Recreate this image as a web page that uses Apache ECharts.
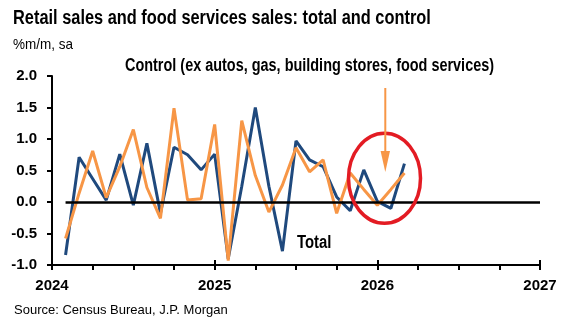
<!DOCTYPE html>
<html>
<head>
<meta charset="utf-8">
<script src="https://cdn.jsdelivr.net/npm/echarts@6/dist/echarts.min.js"></script>
<style>
html,body{margin:0;padding:0;background:#fff;}
#chart{width:567px;height:324px;}
</style>
</head>
<body>
<div id="chart"></div>
<script>
// Months Jan 2024 .. Feb 2026 (plotted at month end)
const months = ['2024-01','2024-02','2024-03','2024-04','2024-05','2024-06','2024-07','2024-08','2024-09','2024-10','2024-11','2024-12',
  '2025-01','2025-02','2025-03','2025-04','2025-05','2025-06','2025-07','2025-08','2025-09','2025-10','2025-11','2025-12',
  '2026-01','2026-02'];
const totalSales = [-0.84,0.71,0.37,0.03,0.76,-0.05,0.93,-0.18,0.87,0.75,0.51,0.76,
  -0.90,0.25,1.50,0.25,-0.78,0.97,0.67,0.56,0.08,-0.14,0.51,0.01,
  -0.10,0.61];
const controlSales = [-0.58,0.14,0.81,0.07,0.56,1.15,0.23,-0.26,1.49,0.03,0.05,1.23,
  -0.93,1.29,0.42,-0.16,0.27,0.86,0.48,0.67,-0.18,0.46,0.20,-0.05,
  0.20,0.46];
const yearTicks = [2024, 2025, 2026, 2027];
const yTicks = [-1.0, -0.5, 0.0, 0.5, 1.0, 1.5, 2.0];

const startYear = yearTicks[0];
const xMax = (yearTicks[yearTicks.length-1] - startYear) * 12;
function monthX(m){ const [y,mo] = m.split('-').map(Number); return (y - startYear)*12 + mo; } // month end
const totalData = months.map((m,i)=>[monthX(m), totalSales[i]]);
const controlData = months.map((m,i)=>[monthX(m), controlSales[i]]);

const SANS = "'Liberation Sans',Arial,sans-serif";
const BLUE = '#1F497D', ORANGE = '#F79646', RED = '#E31B23';

const chart = echarts.init(document.getElementById('chart'), null, {renderer:'canvas'});
chart.setOption({
  animation:false,
  backgroundColor:'#fff',
  grid:{left:52, right:27, top:76, bottom:59, containLabel:false},
  xAxis:[{
    type:'value', min:0, max:xMax, interval:12,
    axisLine:{show:true, onZero:false, lineStyle:{color:'#000', width:2}},
    axisTick:{show:true, inside:false, length:5, lineStyle:{color:'#000', width:2}},
    minorTick:{show:true, splitNumber:4, length:5, lineStyle:{color:'#000', width:2}},
    splitLine:{show:false},
    axisLabel:{margin:13, color:'#000', fontFamily:SANS, fontWeight:'bold', fontSize:15,
      formatter:v=>String(startYear + Math.round(v/12))}
  },{
    type:'value', min:0, max:xMax, interval:12, position:'bottom',
    axisLine:{show:false, onZero:false},
    axisTick:{show:true, inside:true, length:5, lineStyle:{color:'#000', width:2}},
    axisLabel:{show:false}, splitLine:{show:false}
  }],
  yAxis:{
    type:'value', min:yTicks[0], max:yTicks[yTicks.length-1], interval:0.5,
    axisLine:{show:true, lineStyle:{color:'#000', width:2}},
    axisTick:{show:true, inside:false, length:5, lineStyle:{color:'#000', width:2}},
    splitLine:{show:false},
    axisLabel:{margin:15, color:'#000', fontFamily:SANS, fontWeight:'bold', fontSize:15,
      formatter:v=>v.toFixed(1)}
  },
  series:[{
    name:'Total', type:'line', xAxisIndex:0, data:totalData, showSymbol:false, symbol:'none',
    lineStyle:{color:BLUE, width:3}, z:3,
    markLine:{silent:true, symbol:'none', label:{show:false},
      lineStyle:{color:'#000', width:2.5, type:'solid'},
      data:[[{coord:[totalData[0][0],0]},{coord:[xMax,0]}]]}
  },{
    name:'Control', type:'line', xAxisIndex:0, data:controlData, showSymbol:false, symbol:'none',
    lineStyle:{color:ORANGE, width:3}, z:4
  }],
  graphic:[
    {type:'text', x:13, y:18.5, scaleX:0.84, style:{text:'Retail sales and food services sales: total and control', font:"bold 19.5px "+SANS, fill:'#000', textVerticalAlign:'middle'}},
    {type:'text', x:13, y:45, scaleX:0.9, style:{text:'%m/m, sa', font:"15px "+SANS, fill:'#000', textVerticalAlign:'middle'}},
    {type:'text', x:125, y:66.5, scaleX:0.825, style:{text:'Control (ex autos, gas, building stores, food services)', font:"bold 17.5px "+SANS, fill:'#000', textVerticalAlign:'middle'}},
    {type:'text', x:297, y:243.5, scaleX:0.85, style:{text:'Total', font:"bold 17.5px "+SANS, fill:'#000', textVerticalAlign:'middle'}},
    {type:'text', x:14, y:310, style:{text:'Source: Census Bureau, J.P. Morgan', font:"13px "+SANS, fill:'#000', textVerticalAlign:'middle'}},
    {type:'ellipse', shape:{cx:384.5, cy:178.3, rx:36, ry:45}, style:{fill:'none', stroke:RED, lineWidth:3.5}, z:100},
    {type:'line', shape:{x1:385.3, y1:88, x2:385.3, y2:153}, style:{stroke:ORANGE, lineWidth:2}, z:100},
    {type:'polygon', shape:{points:[[380.6,151],[390,151],[385.3,172]]}, style:{fill:ORANGE}, z:100}
  ]
});
</script>
</body>
</html>
